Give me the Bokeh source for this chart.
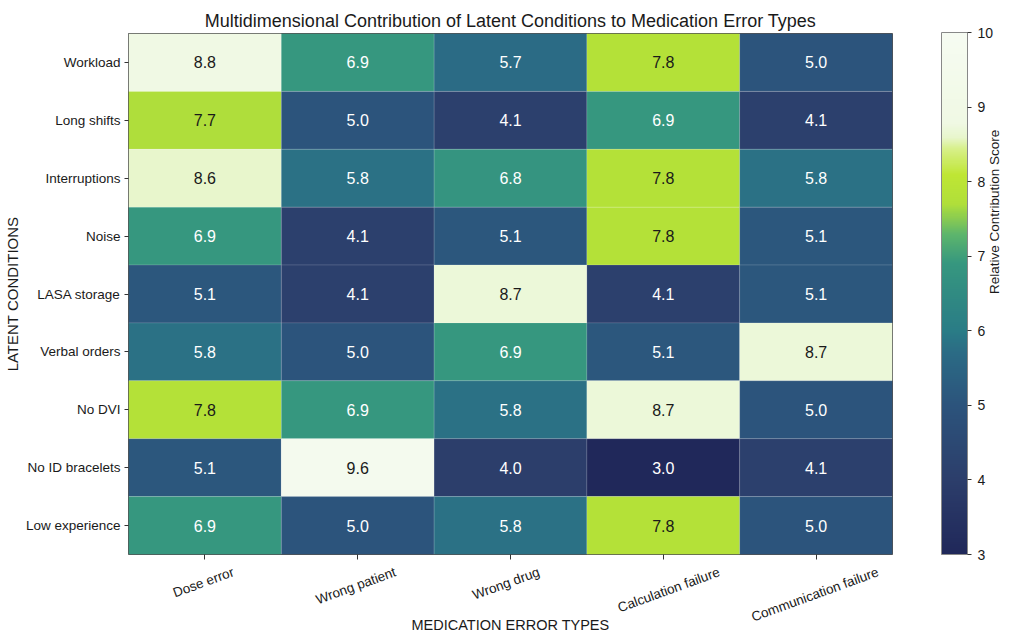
import math
import numpy as np
from bokeh.plotting import figure
from bokeh.models import (ColumnDataSource, LinearColorMapper, ColorBar,
                          FixedTicker, Range1d, LinearAxis, CustomLabelingPolicy)
from bokeh.embed import file_html
from bokeh.resources import INLINE
from bokeh.core.properties import value

# ---------------- data ----------------
conditions = ["Workload", "Long shifts", "Interruptions", "Noise", "LASA storage",
              "Verbal orders", "No DVI", "No ID bracelets", "Low experience"]
error_types = ["Dose error", "Wrong patient", "Wrong drug",
               "Calculation failure", "Communication failure"]
workload = [8.8, 6.9, 5.7, 7.8, 5.0]
long_shifts = [7.7, 5.0, 4.1, 6.9, 4.1]
interruptions = [8.6, 5.8, 6.8, 7.8, 5.8]
noise = [6.9, 4.1, 5.1, 7.8, 5.1]
lasa_storage = [5.1, 4.1, 8.7, 4.1, 5.1]
verbal_orders = [5.8, 5.0, 6.9, 5.1, 8.7]
no_dvi = [7.8, 6.9, 5.8, 8.7, 5.0]
no_id_bracelets = [5.1, 9.6, 4.0, 3.0, 4.1]
low_experience = [6.9, 5.0, 5.8, 7.8, 5.0]
rows = [workload, long_shifts, interruptions, noise, lasa_storage,
        verbal_orders, no_dvi, no_id_bracelets, low_experience]
colorbar_ticks = [3, 4, 5, 6, 7, 8, 9, 10]
score_min, score_max = 3, 10

FONT = "Liberation Sans"
TXT = "#1a1a1a"
nr, nc = len(conditions), len(error_types)

# ---------------- palette ----------------
anchors = [(3.0, "#20285a"), (4.0, "#2c3e6b"), (5.0, "#2c547c"), (5.7, "#2b6b85"),
           (6.0, "#2a7c86"), (6.9, "#36977f"), (7.3, "#5db56c"), (7.7, "#b0df3a"),
           (8.1, "#bfe634"), (8.45, "#d8f08c"), (8.6, "#e8f6cc"), (8.8, "#f0f9e4"),
           (10.0, "#f6fbf2")]
def h2rgb(h):
    return [int(h[i:i + 2], 16) for i in (1, 3, 5)]
av = [a[0] for a in anchors]
ac = np.array([h2rgb(a[1]) for a in anchors], dtype=float)
palette = []
for v in np.linspace(score_min, score_max, 256):
    rgb = [np.interp(v, av, ac[:, k]) for k in range(3)]
    palette.append("#%02x%02x%02x" % tuple(int(round(c)) for c in rgb))
mapper = LinearColorMapper(palette=palette, low=score_min, high=score_max)

# ---------------- source ----------------
xs, ys, sc, txt, tcol = [], [], [], [], []
for r, row in enumerate(rows):
    for c, s in enumerate(row):
        xs.append(c + 0.5)
        ys.append(nr - 1 - r + 0.5)
        sc.append(s)
        txt.append("%.1f" % s)
        tcol.append(TXT if s >= 7.5 else "#ffffff")
src = ColumnDataSource(dict(x=xs, y=ys, score=sc, label=txt, tcol=tcol))

p = figure(width=1012, height=635, output_backend="svg", toolbar_location=None,
           x_range=Range1d(0, nc), y_range=Range1d(0, nr),
           x_axis_location=None, y_axis_location=None,
           min_border_left=127, min_border_right=119, min_border_top=33,
           min_border_bottom=80, background_fill_color="white",
           border_fill_color="white")
p.title.text = "Multidimensional Contribution of Latent Conditions to Medication Error Types"
p.title.align = "center"
p.title.text_font = FONT
p.title.text_font_size = "18px"
p.title.text_font_style = "normal"
p.title.text_color = TXT
p.title.offset = 0
p.title.standoff = 6

p.rect("x", "y", width=1, height=1, source=src,
       fill_color={"field": "score", "transform": mapper},
       line_color="white", line_alpha=0.12, line_width=1)
p.text("x", "y", text="label", source=src, text_color="tcol",
       text_align="center", text_baseline="middle",
       text_font=value(FONT), text_font_size="16px")

p.grid.visible = False
p.outline_line_color = "#444444"
p.outline_line_width = 1

no_labels = CustomLabelingPolicy(code="return new Set()")

# ---- y axis ----
ytick = [nr - 1 - i + 0.5 for i in range(nr)]
yax = LinearAxis(ticker=FixedTicker(ticks=ytick),
                 major_label_overrides={t: n for t, n in zip(ytick, conditions)},
                 major_label_text_font=FONT, major_label_text_font_size="13.5px",
                 major_label_text_color=TXT, major_tick_in=0, major_tick_out=4,
                 major_tick_line_color="#333333", minor_tick_line_color=None,
                 axis_line_color=None, major_label_standoff=4,
                 axis_label="LATENT CONDITIONS", axis_label_text_font=FONT,
                 axis_label_text_font_size="15px", axis_label_text_font_style="normal",
                 axis_label_text_color=TXT, axis_label_standoff=2)
p.add_layout(yax, "left")

# ---- x axis: tick marks at column centres ----
xtick = [i + 0.5 for i in range(nc)]
xax = LinearAxis(ticker=FixedTicker(ticks=xtick), major_label_policy=no_labels,
                 major_tick_in=0, major_tick_out=5, major_tick_line_color="#333333",
                 minor_tick_line_color=None, axis_line_color=None,
                 major_label_standoff=0)
p.add_layout(xax, "below")

# ---- x axis: rotated category labels (centred under each tick) ----
theta = math.radians(20)
px_x = 766 / nc
lab_pos = [i + 0.5 + ((len(n) * 6.5 / 2) * math.cos(theta) - 2) / px_x
           for i, n in enumerate(error_types)]
lax = LinearAxis(ticker=FixedTicker(ticks=lab_pos),
                 major_label_overrides={t: n for t, n in zip(lab_pos, error_types)},
                 major_label_orientation=theta, major_label_text_font=FONT,
                 major_label_text_font_size="13.5px", major_label_text_color=TXT,
                 major_tick_in=0, major_tick_out=0, minor_tick_line_color=None,
                 axis_line_color=None, major_label_standoff=1,
                 axis_label="MEDICATION ERROR TYPES", axis_label_text_font=FONT,
                 axis_label_text_font_size="14.5px", axis_label_text_font_style="normal",
                 axis_label_text_color=TXT, axis_label_standoff=-18)
p.add_layout(lax, "below")

# ---- colour bar ----
cb = ColorBar(color_mapper=mapper, ticker=FixedTicker(ticks=colorbar_ticks),
              width=26, height=522, padding=0, margin=0, location=(49, 0),
              major_tick_in=0, major_tick_out=4, major_tick_line_color="#333333",
              bar_line_color="#888888", bar_line_width=1, label_standoff=6,
              major_label_text_font=FONT, major_label_text_font_size="14px",
              major_label_text_color=TXT, background_fill_alpha=0,
              border_line_color=None)
p.add_layout(cb, "right")

cbt = LinearAxis(ticker=FixedTicker(ticks=[]), major_tick_in=0, major_tick_out=0,
                 minor_tick_line_color=None, axis_line_color=None,
                 major_label_policy=no_labels, major_label_standoff=0,
                 axis_label="Relative Contribution Score", axis_label_text_font=FONT,
                 axis_label_text_font_size="13.5px", axis_label_text_font_style="normal",
                 axis_label_text_color=TXT, axis_label_standoff=-2)
if "axis_label_orientation" in cbt.properties():
    cbt.axis_label_orientation = math.pi / 2
p.add_layout(cbt, "right")

open("out.html", "w").write(file_html(p, INLINE))
